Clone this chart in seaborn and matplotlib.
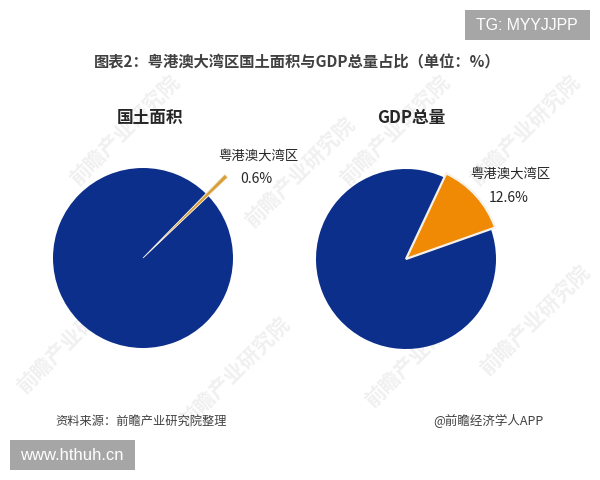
import matplotlib
matplotlib.use('Agg')
import matplotlib.pyplot as plt
from matplotlib.patches import Rectangle
import seaborn as sns

sns.set_theme(style='white')
plt.rcParams['font.family'] = ['Noto Sans CJK SC', 'DejaVu Sans']

labels = ['其他', '粤港澳大湾区']
land_share = [99.4, 0.6]
gdp_share = [87.4, 12.6]

NAVY = '#0b2f8a'
ORANGE = '#f08a05'
GOLD = '#d9a03a'
W, H = 600, 480

def fx(x):
    return x / W

def fy(y):
    return 1 - y / H

fig = plt.figure(figsize=(6, 4.8), dpi=100, facecolor='white')

# watermark layer goes first so it sits behind the pies
bg = fig.add_axes([0, 0, 1, 1], facecolor='none')
bg.set_xlim(0, W)
bg.set_ylim(H, 0)
bg.axis('off')
marks = [(125, 130), (300, 172), (395, 130), (525, 130),
         (72, 338), (235, 372), (420, 352), (535, 320)]
for x, y in marks:
    bg.text(x, y, '前瞻产业研究院', fontsize=15, fontweight='bold', color='#8a8a8a',
            alpha=0.13, rotation=45, ha='center', va='center')

def add_pie(cx, cy, values, start, pop, edge, color):
    # axes is wider than the pie (90px radius) to leave room for the popped slice
    half = 125
    ax = fig.add_axes([fx(cx - half), fy(cy + half), 2 * half / W, 2 * half / H], facecolor='none')
    wedges, _ = ax.pie(values, colors=[NAVY, color], startangle=start, counterclock=True,
                       radius=1.0, wedgeprops={'linewidth': 0})
    ax.set_xlim(-half / 90, half / 90)
    ax.set_ylim(-half / 90, half / 90)
    ax.set_aspect('equal')
    ax.axis('off')
    wedges[1].set_radius(pop)
    wedges[1].set_edgecolor('#f4f1ea')
    wedges[1].set_linewidth(edge)
    wedges[1].set_zorder(3)
    return ax

# start angles put the orange slice where the reference has it
add_pie(143, 258, land_share, 43.5 - 360 * land_share[0] / 100, 1.3, 0.6, GOLD)
add_pie(406, 259, gdp_share, 64.8, 1.05, 1.6, ORANGE)

ov = fig.add_axes([0, 0, 1, 1], facecolor='none')
ov.set_xlim(0, W)
ov.set_ylim(H, 0)
ov.axis('off')

ov.text(297, 62, '图表2：粤港澳大湾区国土面积与GDP总量占比（单位：%）', fontsize=11,
        fontweight='bold', color='#404040', ha='center', va='center')
ov.text(150, 118, '国土面积', fontsize=12, fontweight='bold', color='#262626', ha='center', va='center')
ov.text(411, 118, 'GDP总量', fontsize=12, fontweight='bold', color='#262626', ha='center', va='center')

ov.text(258, 156, labels[1], fontsize=9.6, color='#262626', ha='center', va='center')
ov.text(256, 179, '%.1f%%' % land_share[1], fontsize=10, color='#262626', ha='center', va='center')
ov.text(510, 174, labels[1], fontsize=9.6, color='#262626', ha='center', va='center')
ov.text(509, 198, '%.1f%%' % gdp_share[1], fontsize=10, color='#262626', ha='center', va='center')

ov.text(55, 421, '资料来源：前瞻产业研究院整理', fontsize=8.8, style='italic', color='#404040',
        ha='left', va='center')
ov.text(544, 421, '@前瞻经济学人APP', fontsize=9, color='#404040', ha='right', va='center')

# grey stamp boxes
ov.add_patch(Rectangle((10, 440), 125, 30, facecolor='#a6a6a6', edgecolor='none'))
ov.text(72, 456, 'www.hthuh.cn', fontsize=12, color='white', ha='center', va='center',
        family=['Liberation Sans'])
ov.add_patch(Rectangle((465, 10), 125, 30, facecolor='#a6a6a6', edgecolor='none'))
ov.text(527, 26, 'TG: MYYJJPP', fontsize=11.4, color='white', ha='center', va='center',
        family=['Liberation Sans'])

fig.savefig('out.png', dpi=100)
